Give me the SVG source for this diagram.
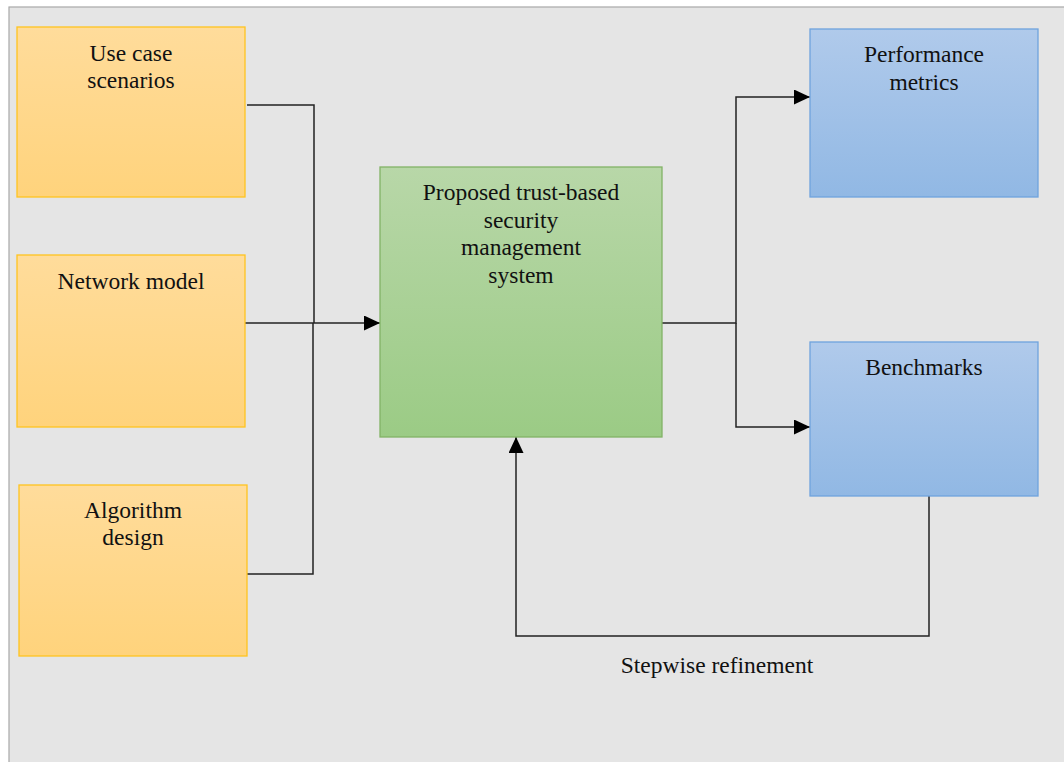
<svg xmlns="http://www.w3.org/2000/svg" width="1064" height="762" viewBox="0 0 1064 762">
  <style>
    .lbl { font-family: "Liberation Serif", "Times New Roman", serif; font-size: 23.5px; fill: #111; text-anchor: middle; }
    .in { fill: url(#gYellow); stroke: #ffc41f; stroke-width: 1.3; }
    .core { fill: url(#gGreen); stroke: #82b366; stroke-width: 1.3; }
    .out { fill: url(#gBlue); stroke: #6fa3dd; stroke-width: 1.3; }
    .wire { fill: none; stroke: #222; stroke-width: 1.5; }
  </style>
  <defs>
    <linearGradient id="gYellow" x1="0" y1="0" x2="0" y2="1">
      <stop offset="0" stop-color="#ffdc9b"/>
      <stop offset="1" stop-color="#ffd37c"/>
    </linearGradient>
    <linearGradient id="gGreen" x1="0" y1="0" x2="0" y2="1">
      <stop offset="0" stop-color="#b8d7a8"/>
      <stop offset="1" stop-color="#9bcb85"/>
    </linearGradient>
    <linearGradient id="gBlue" x1="0" y1="0" x2="0" y2="1">
      <stop offset="0" stop-color="#b0caeb"/>
      <stop offset="1" stop-color="#91b8e4"/>
    </linearGradient>
    <marker id="arrow" viewBox="0 0 16 15" refX="16" refY="7.5" markerWidth="16" markerHeight="15" markerUnits="userSpaceOnUse" orient="auto">
      <path d="M0,0 L16,7.5 L0,15 Z" fill="#000"/>
    </marker>
  </defs>

  <!-- canvas -->
  <rect x="9" y="7" width="1070" height="770" fill="#e5e5e5" stroke="#a8a8a8" stroke-width="1.2"/>

  <g id="connectors">
    <polyline class="wire" points="247,105 314,105 314,323"/>
    <polyline class="wire" points="247,574 313,574 313,323"/>
    <line class="wire" x1="245" y1="323" x2="380" y2="323" marker-end="url(#arrow)"/>
    <polyline class="wire" points="662,323 736,323 736,97 810,97" marker-end="url(#arrow)"/>
    <polyline class="wire" points="736,323 736,427 810,427" marker-end="url(#arrow)"/>
    <polyline class="wire" points="929,496 929,636 516,636 516,437" marker-end="url(#arrow)"/>
    <text class="lbl" x="717" y="673">Stepwise refinement</text>
  </g>

  <g id="use-case">
    <rect class="in" x="17" y="27" width="228" height="170"/>
    <text class="lbl" x="131" y="61">Use case</text>
    <text class="lbl" x="131" y="88">scenarios</text>
  </g>

  <g id="network-model">
    <rect class="in" x="17" y="255" width="228" height="172"/>
    <text class="lbl" x="131" y="289">Network model</text>
  </g>

  <g id="algorithm-design">
    <rect class="in" x="19" y="485" width="228" height="171"/>
    <text class="lbl" x="133" y="518">Algorithm</text>
    <text class="lbl" x="133" y="545">design</text>
  </g>

  <g id="trust-system">
    <rect class="core" x="380" y="167" width="282" height="270"/>
    <text class="lbl" x="521" y="200">Proposed trust-based</text>
    <text class="lbl" x="521" y="228">security</text>
    <text class="lbl" x="521" y="255">management</text>
    <text class="lbl" x="521" y="283">system</text>
  </g>

  <g id="performance-metrics">
    <rect class="out" x="810" y="29" width="228" height="168"/>
    <text class="lbl" x="924" y="62">Performance</text>
    <text class="lbl" x="924" y="90">metrics</text>
  </g>

  <g id="benchmarks">
    <rect class="out" x="810" y="342" width="228" height="154"/>
    <text class="lbl" x="924" y="375">Benchmarks</text>
  </g>
</svg>
